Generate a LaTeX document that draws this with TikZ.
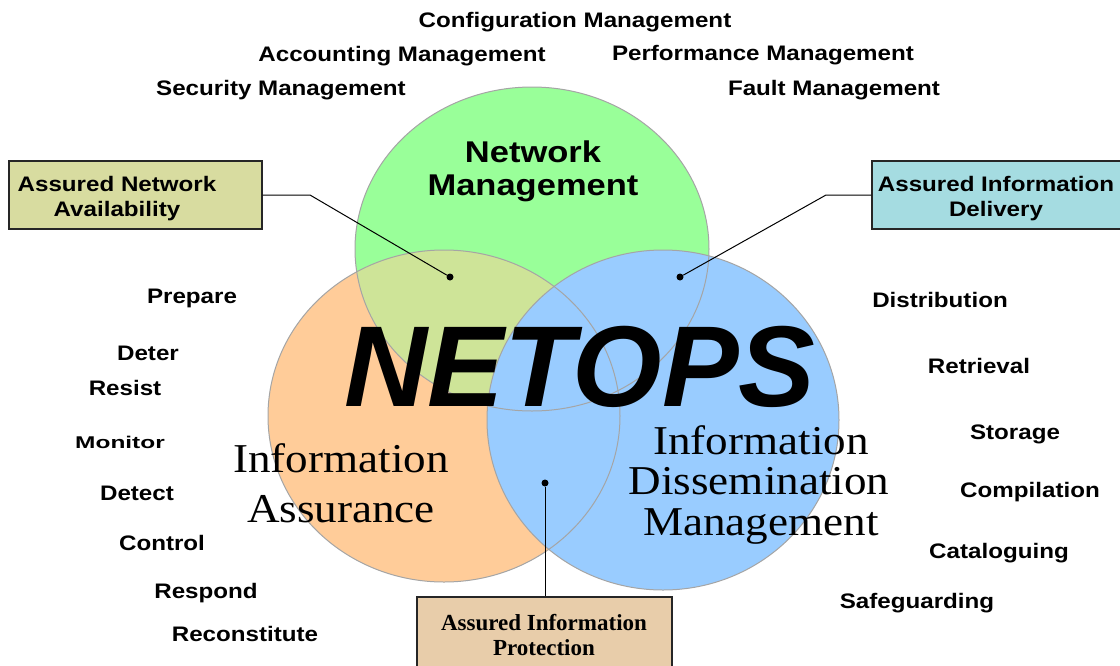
\documentclass[tikz,border=0pt]{standalone}
\usepackage{fontspec}
\setmainfont{Liberation Serif}
\setsansfont{Liberation Sans}
\newfontfamily\pixfont[FakeStretch=1.15]{Liberation Sans}
\newfontfamily\widerm[FakeStretch=1.1]{Liberation Serif}
\definecolor{ngreen}{RGB}{153,255,153}
\definecolor{iorange}{RGB}{255,204,153}
\definecolor{dblue}{RGB}{153,204,255}
\definecolor{mixgo}{RGB}{206,228,152}
\definecolor{rimgray}{RGB}{165,165,165}
\definecolor{anafill}{RGB}{216,220,160}
\definecolor{aidfill}{RGB}{165,220,225}
\definecolor{aipfill}{RGB}{232,205,170}
\begin{document}
\begin{tikzpicture}[x=1pt,y=-1pt,
  pix/.style={font=\pixfont\bfseries\fontsize{21}{25}\selectfont, inner sep=0pt},
  serifbig/.style={font=\widerm\fontsize{41}{41}\selectfont, inner sep=0pt, text height=28pt, text depth=8pt},
  tagbox/.style={draw=black!85, line width=1.3pt, inner sep=0pt},
  conn/.style={draw=black, line width=1pt},
  dot/.style={circle, fill=black, inner sep=0pt, minimum size=7pt},
  rim/.style={draw=rimgray, line width=1pt}]
\clip (0,0) rectangle (1120,665);
\fill[white] (0,0) rectangle (1120,665);
% circles
\fill[ngreen] (532,249) ellipse [x radius=177, y radius=162];
\fill[iorange] (444,416) ellipse [x radius=176, y radius=166];
\begin{scope}
  \clip (532,249) ellipse [x radius=177, y radius=162];
  \fill[mixgo] (444,416) ellipse [x radius=176, y radius=166];
\end{scope}
\fill[dblue] (663,420) ellipse [x radius=176, y radius=170];
\draw[rim] (532,249) ellipse [x radius=177, y radius=162];
\draw[rim] (444,416) ellipse [x radius=176, y radius=166];
\draw[rim] (663,420) ellipse [x radius=176, y radius=170];
% top labels
\node[pix] (cfg) at (575,22) {Configuration Management};
\node[pix] (acc) at (402,56) {Accounting Management};
\node[pix] (perf) at (763,55) {Performance Management};
\node[pix] (sec) at (281,90) {Security Management};
\node[pix] (fault) at (834,90) {Fault Management};
% circle titles
\node[font=\pixfont\bfseries\fontsize{30}{33}\selectfont, align=center, inner sep=0pt] (nm) at (533,171) {Network\\Management};
\node[font=\sffamily\bfseries\itshape\fontsize{115}{115}\selectfont, inner sep=0pt, text depth=0pt, anchor=base] (netops) at (580,406) {NETOPS};
\node[serifbig, anchor=base] (ia1) at (341,472) {Information};
\node[serifbig, anchor=base] (ia2) at (341,522) {Assurance};
\node[serifbig, anchor=base] (idm1) at (761,454) {Information};
\node[serifbig, anchor=base] (idm2) at (759,494) {Dissemination};
\node[serifbig, anchor=base] (idm3) at (761,535) {Management};
% left list
\node[pix] (prep) at (192,298) {Prepare};
\node[pix] (deter) at (148,353) {Deter};
\node[pix] (resist) at (125,388) {Resist};
\node[pix, font=\pixfont\bfseries\fontsize{17}{20}\selectfont, xscale=1.25] (mon) at (120,442) {Monitor};
\node[pix] (detect) at (137,493) {Detect};
\node[pix] (control) at (162,543) {Control};
\node[pix] (respond) at (206,593) {Respond};
\node[pix] (recon) at (245,634) {Reconstitute};
% right list
\node[pix] (dist) at (940,300) {Distribution};
\node[pix] (retr) at (979,366) {Retrieval};
\node[pix] (stor) at (1015,434) {Storage};
\node[pix] (comp) at (1030,492) {Compilation};
\node[pix] (catal) at (999,553) {Cataloguing};
\node[pix] (safe) at (917,603) {Safeguarding};
% boxes
\node[tagbox, fill=anafill, minimum width=253pt, minimum height=68pt] (ana) at (135.5,195) {};
\node[pix, align=center] (anatext) at (117,199) {Assured Network\\Availability};
\node[tagbox, fill=aidfill, minimum width=252pt, minimum height=68pt] (aid) at (998,195) {};
\node[pix, align=center] (aidtext) at (996,199) {Assured Information\\Delivery};
\node[tagbox, fill=aipfill, minimum width=255pt, minimum height=70pt] (aip) at (544.5,632) {};
\node[font=\rmfamily\bfseries\fontsize{23}{25}\selectfont, align=center, inner sep=0pt] (aiptext) at (544,635) {Assured Information\\Protection};
% dots and connectors
\node[dot] (d1) at (450,277) {};
\node[dot] (d2) at (680,277) {};
\node[dot] (d3) at (545,483) {};
\coordinate (b1) at (310,195);
\coordinate (b2) at (826,195);
\draw[conn] (ana.east) -- (b1) -- (d1);
\draw[conn] (aid.west) -- (b2) -- (d2);
\draw[conn] (d3) -- (d3 |- aip.north);
\end{tikzpicture}
\end{document}
